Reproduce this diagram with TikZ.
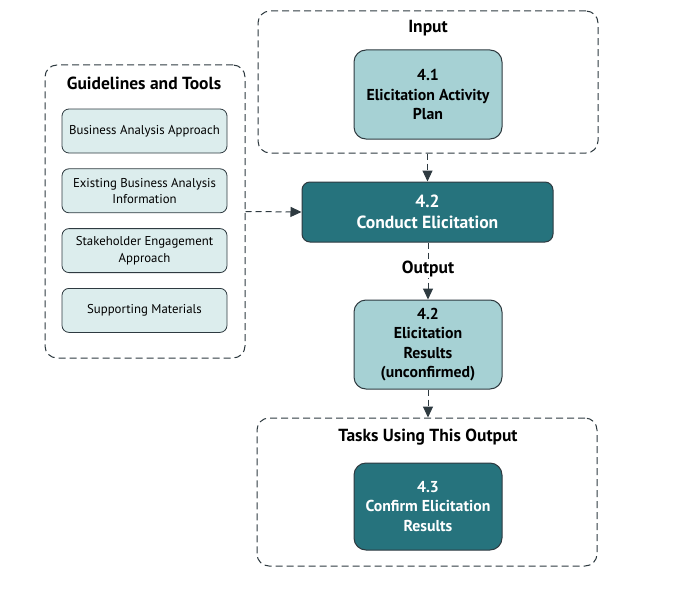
\documentclass[tikz,border=0pt]{standalone}
\usepackage{fontspec}
\setmainfont{PT Sans}
\usepackage{tikz}
\usetikzlibrary{positioning,arrows.meta}
\definecolor{tealdark}{HTML}{26737D}
\definecolor{teallight}{HTML}{A6D1D4}
\definecolor{tealpale}{HTML}{DCEDED}
\definecolor{edgegray}{HTML}{2E3A40}
\tikzstyle{group}=[draw=edgegray,line width=1pt,dash pattern=on 7pt off 4pt,rounded corners=12pt,inner sep=0pt]
\tikzstyle{title}=[font=\fontsize{17.5}{20}\selectfont\bfseries,text=black]
\tikzstyle{task}=[draw=edgegray,line width=1pt,fill=tealdark,text=white,rounded corners=8pt,align=center]
\tikzstyle{artifact}=[draw=edgegray,line width=1pt,fill=teallight,rounded corners=12pt,align=center,minimum width=148pt,font=\fontsize{15.8}{19.5}\selectfont\bfseries]
\tikzstyle{tool}=[draw=edgegray,line width=0.8pt,fill=tealpale,rounded corners=7pt,align=center,minimum width=165pt,minimum height=44pt,inner sep=2pt,font=\fontsize{12.8}{16.5}\selectfont]
\tikzstyle{flow}=[draw=edgegray,line width=1pt,dash pattern=on 6pt off 4pt,-{Triangle[length=11pt,width=10pt]}]

\begin{document}
\begin{tikzpicture}[x=1pt,y=-1pt]
  \useasboundingbox (0,0) rectangle (677,594);
  % dashed groups
  \node[group,minimum width=340pt,minimum height=142pt] (input) at (428,82) {};
  \node[group,minimum width=200pt,minimum height=293pt] (guide) at (145,211.5) {};
  \node[group,minimum width=340pt,minimum height=148pt] (tasks) at (427,492) {};
  \node[title] (inputlbl) at (428,28) {Input};
  \node[title] (guidelbl) at (144,83) {Guidelines and Tools};
  \node[title] (taskslbl) at (428,437) {Tasks Using This Output};
  % guidelines and tools
  \node[tool] (approach) at (144.5,131) {Business Analysis Approach};
  \node[tool,below=15pt of approach] (info) {Existing Business Analysis\\Information};
  \node[tool,below=15pt of info] (engage) {Stakeholder Engagement\\Approach};
  \node[tool,below=15pt of engage] (support) {Supporting Materials};
  % tasks and outputs
  \node[artifact,minimum height=89pt] (plan) at (428,94.5) {4.1\\Elicitation Activity\\Plan};
  \node[task,minimum width=251pt,minimum height=60pt,font=\fontsize{17.6}{21}\selectfont\bfseries] (conduct) at (427.5,212) {4.2\\Conduct Elicitation};
  \node[artifact,minimum height=89pt] (results) at (428,344.5) {4.2\\Elicitation\\Results\\(unconfirmed)};
  \node[task,minimum width=148pt,minimum height=87pt,rounded corners=12pt,font=\fontsize{15.8}{19.5}\selectfont\bfseries] (confirm) at (428,506.5) {4.3\\Confirm Elicitation\\Results};
  % connectors
  \draw[flow] (input.south -| conduct.north) -- (conduct.north);
  \draw[flow] (guide.east) -- (conduct.west);
  \draw[flow] (conduct.south -| results.north) -- node[title,fill=white,inner sep=1pt,yshift=2pt] (outlbl) {Output} (results.north);
  \draw[flow] (results.south) -- (results.south |- tasks.north);
\end{tikzpicture}
\end{document}
